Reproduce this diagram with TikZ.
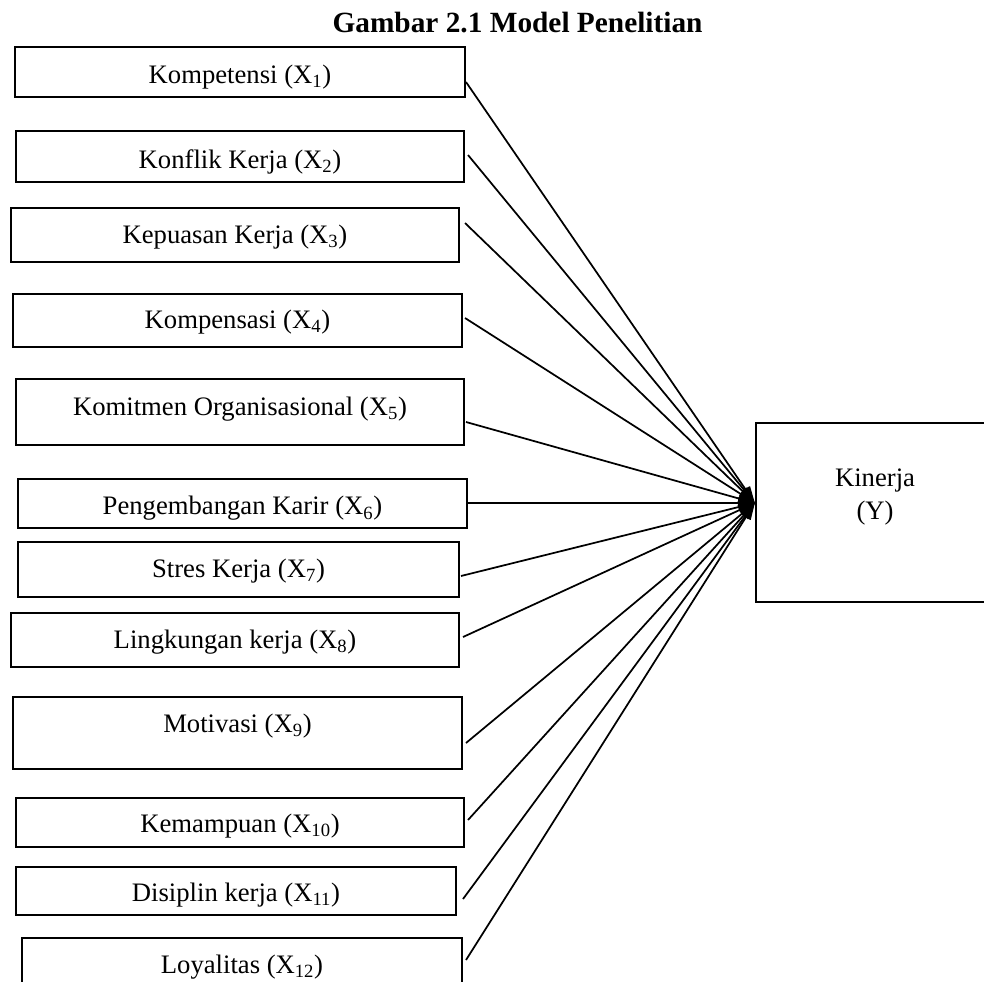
\documentclass[tikz,border=0pt]{standalone}
\usepackage{fontspec}
\setmainfont{Liberation Serif}
\usetikzlibrary{arrows.meta}
\tikzset{
  varbox/.style={draw, line width=1.5pt, inner sep=0pt, text height=14pt, text depth=5pt,
    font=\fontsize{20}{24}\selectfont},
  kinbox/.style={draw, line width=1.7pt, inner sep=0pt},
  kintext/.style={align=center, inner sep=0pt, font=\fontsize{20}{24.75}\selectfont},
  titletext/.style={anchor=base, inner sep=0pt, font=\bfseries\fontsize{22}{26}\selectfont},
  arr/.style={line width=1.3pt, -{Triangle[length=12.5pt,width=8pt]}}
}
\newcommand\mybox[7]{%
  \node[varbox, minimum width={(#4-#2)*0.75pt}, minimum height={(#5-#3)*0.75pt}]
    (#1) at ({(#2+#4)/2},{(#3+#5)/2}) {\raisebox{#7pt}{#6}};%
}
\begin{document}
\begin{tikzpicture}[x=0.75pt,y=-0.75pt]
\useasboundingbox (0,0) rectangle (984,981);
\clip (0,0) rectangle (984,981);

\node[titletext] (title) at (517.5,33) {Gambar 2.1 Model Penelitian};

\mybox{b1}{15}{47}{465}{97}{Kompetensi (X\textsubscript{1})}{-4.0}
\mybox{b2}{16}{131}{464}{182}{Konflik Kerja (X\textsubscript{2})}{-4.35}
\mybox{b3}{11}{208}{459}{262}{Kepuasan Kerja (X\textsubscript{3})}{-1.7}
\mybox{b4}{13}{294}{462}{347}{Kompensasi (X\textsubscript{4})}{-1.35}
\mybox{b5}{16}{379}{464}{445}{Komitmen Organisasional (X\textsubscript{5})}{2.25}
\mybox{b6}{18}{479}{467}{528}{Pengembangan Karir (X\textsubscript{6})}{-4.1}
\mybox{b7}{18}{542}{459}{597}{Stres Kerja (X\textsubscript{7})}{-1.35}
\mybox{b8}{11}{613}{459}{667}{Lingkungan kerja (X\textsubscript{8})}{-1.7}
\mybox{b9}{13}{697}{462}{769}{Motivasi (X\textsubscript{9})}{4.7}
\mybox{b10}{16}{798}{464}{847}{Kemampuan (X\textsubscript{10})}{-3.15}
\mybox{b11}{16}{867}{456}{915}{Disiplin kerja (X\textsubscript{11})}{-3.5}
\mybox{b12}{22}{938}{462}{1010}{Loyalitas (X\textsubscript{12})}{5.0}

\node[kinbox, minimum width={(994-756)*0.75pt}, minimum height={(602-423)*0.75pt}] (K) at (875,512.5) {};
\node[kintext] (KT) at (875,496.7) {Kinerja\\(Y)};

\coordinate (tip) at ([shift={(0,-9.5)}]K.west);
\draw[arr] ([shift={(0,10)}]b1.east) -- (tip);
\draw[arr] ([shift={(3,-1.5)}]b2.east) -- (tip);
\draw[arr] ([shift={(5,-12)}]b3.east) -- (tip);
\draw[arr] ([shift={(2,-2.5)}]b4.east) -- (tip);
\draw[arr] ([shift={(1,10)}]b5.east) -- (tip);
\draw[arr] ([shift={(0,-0.5)}]b6.east) -- (tip);
\draw[arr] ([shift={(1,6.5)}]b7.east) -- (tip);
\draw[arr] ([shift={(3,-3)}]b8.east) -- (tip);
\draw[arr] ([shift={(3,10)}]b9.east) -- (tip);
\draw[arr] ([shift={(3,-2.5)}]b10.east) -- (tip);
\draw[arr] ([shift={(6,8)}]b11.east) -- (tip);
\draw[arr] ([shift={(3,-14)}]b12.east) -- (tip);
\end{tikzpicture}
\end{document}
